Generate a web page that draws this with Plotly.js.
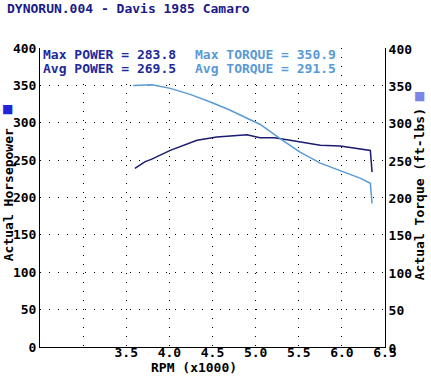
<!DOCTYPE html>
<html>
<head>
<meta charset="utf-8">
<script src="https://cdn.plot.ly/plotly-3.0.1.min.js"></script>
<style>
html,body{margin:0;padding:0;background:#fff;}
#chart{width:431px;height:376px;}
</style>
</head>
<body>
<div id="chart"></div>
<script>
// RPM (x1000) for each sample
const rpmPower  = [3.60, 3.72, 3.79, 4.01, 4.32, 4.55, 4.90, 5.01, 5.05, 5.17, 5.22, 5.40, 5.75, 5.98, 6.21, 6.33, 6.35];
const powerHp   = [239, 248, 251, 263, 276.6, 281, 283.8, 281, 280, 280, 280, 276.6, 270, 269, 265.4, 263, 234];
const rpmTorque = [3.58, 3.80, 4.01, 4.24, 4.49, 4.70, 4.90, 5.05, 5.28, 5.51, 5.75, 5.98, 6.21, 6.33, 6.35];
const torqueFt  = [350, 350.9, 346, 338, 327, 317, 306, 298, 279, 261, 246, 236, 226, 219, 192];

const xTickVals = [3.0, 3.5, 4.0, 4.5, 5.0, 5.5, 6.0, 6.5];
const xTickText = ['', '3.5', '4.0', '4.5', '5.0', '5.5', '6.0', '6.5'];
const yTickVals = [0, 50, 100, 150, 200, 250, 300, 350, 400];

const chartTitle = 'DYNORUN.004 - Davis 1985 Camaro';
const statLines = ['Max POWER = 283.8', 'Avg POWER = 269.5', 'Max TORQUE = 350.9', 'Avg TORQUE = 291.5'];

const MONO = '"DejaVu Sans Mono", "Liberation Mono", monospace';
const W = 431, H = 376;
const L = 40, R = 385, T = 47.6, B = 347;
const px = x => (x - L) / (R - L);
const py = y => (B - y) / (B - T);

const navy = '#1b1b70';
const darkText = '#1e2a9a';
const light = '#5a9ad4';

const traces = [
  {x: rpmPower, y: powerHp, type: 'scatter', mode: 'lines', name: 'Power',
   line: {color: navy, width: 1.5}, yaxis: 'y', hoverinfo: 'none'},
  {x: rpmTorque, y: torqueFt, type: 'scatter', mode: 'lines', name: 'Torque',
   line: {color: light, width: 1.5}, yaxis: 'y2', hoverinfo: 'none'}
];

function ann(text, x, y, color, opts) {
  return Object.assign({
    text: text, xref: 'paper', yref: 'paper', x: px(x), y: py(y),
    xanchor: 'left', yanchor: 'middle', showarrow: false,
    font: {family: MONO, size: 13, color: color, weight: 'bold'}
  }, opts || {});
}

const annotations = [
  ann(chartTitle, 5, 8, '#1a1a8a'),
  ann(statLines[0], 42, 54, darkText, {bgcolor: '#fff', borderpad: 0}),
  ann(statLines[1], 42, 68, darkText, {bgcolor: '#fff', borderpad: 0}),
  ann(statLines[2], 194, 54, light, {bgcolor: '#fff', borderpad: 0}),
  ann(statLines[3], 194, 68, light, {bgcolor: '#fff', borderpad: 0}),
  ann('RPM (x1000)', 194, 368, '#000', {xanchor: 'center'}),
  ann('Actual Horsepower', 8, 195, '#000', {xanchor: 'center', textangle: -90}),
  ann('Actual Torque (ft-lbs)', 419, 194, '#000', {xanchor: 'center', textangle: -90}),
  ann('■', 7, 109, '#2323d8', {xanchor: 'center', font: {family: 'DejaVu Sans', size: 12, color: '#2323d8'}}),
  ann('■', 419, 96, '#7d86e6', {xanchor: 'center', font: {family: 'DejaVu Sans', size: 12, color: '#7d86e6'}})
];

const tickFont = {family: MONO, size: 13, color: '#000', weight: 'bold'};

const layout = {
  width: W, height: H,
  margin: {l: L, r: W - R, t: T, b: H - B, pad: 0},
  paper_bgcolor: '#fff', plot_bgcolor: '#fff',
  showlegend: false,
  xaxis: {
    range: [2.5, 6.5], tickmode: 'array', tickvals: xTickVals, ticktext: xTickText,
    showgrid: true, gridcolor: '#000', gridwidth: 1, griddash: '1px,8px',
    showline: true, linecolor: '#000', linewidth: 1, zeroline: false,
    ticks: '', tickfont: tickFont, ticklabelstandoff: -7, fixedrange: true
  },
  yaxis: {
    range: [0, 400], tickmode: 'array', tickvals: yTickVals,
    showgrid: true, gridcolor: '#000', gridwidth: 1, griddash: '1px,8px',
    showline: true, linecolor: '#000', linewidth: 1, zeroline: false,
    ticks: '', tickfont: tickFont, fixedrange: true
  },
  yaxis2: {
    range: [0, 400], tickmode: 'array', tickvals: yTickVals,
    overlaying: 'y', side: 'right', showgrid: false,
    showline: true, linecolor: '#000', linewidth: 1, zeroline: false,
    ticks: '', tickfont: tickFont, ticklabelshift: 1, fixedrange: true
  },
  annotations: annotations
};

Plotly.newPlot('chart', traces, layout, {staticPlot: true, displayModeBar: false});
</script>
</body>
</html>
